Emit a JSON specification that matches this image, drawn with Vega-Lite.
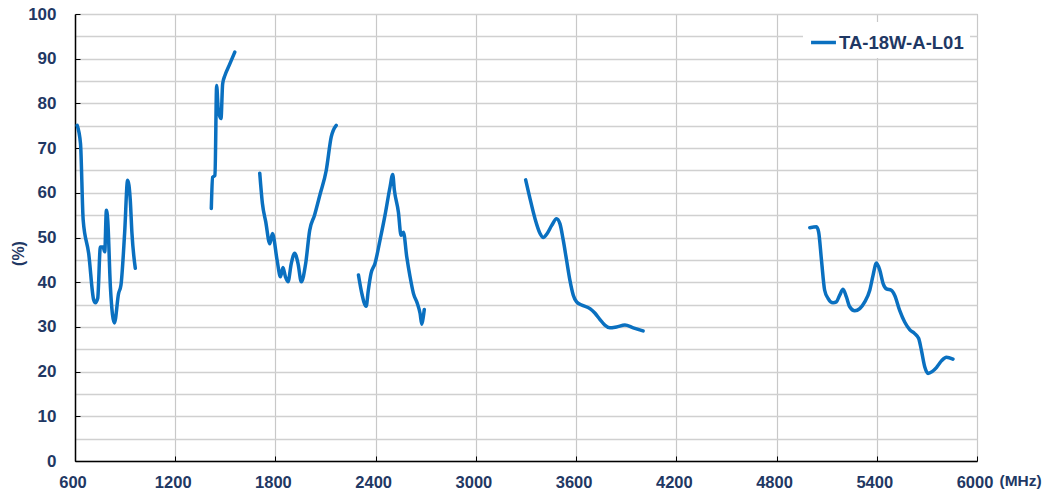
{
  "$schema": "https://vega.github.io/schema/vega-lite/v6.json",
  "autosize": "none",
  "padding": {"left": 75, "top": 14, "right": 74, "bottom": 35},
  "width": 902,
  "height": 447,
  "background": "white",
  "config": {
    "view": {"stroke": "#a6a6a6", "strokeWidth": 1},
    "font": "Liberation Sans"
  },
  "data": {
    "values": [
      {"b": 1, "f": 613, "v": 75.1}, {"b": 1, "f": 633, "v": 71}, {"b": 1, "f": 649, "v": 53.9}, {"b": 1, "f": 682, "v": 46.4},
      {"b": 1, "f": 712, "v": 36}, {"b": 1, "f": 722, "v": 35.4}, {"b": 1, "f": 736, "v": 36.4}, {"b": 1, "f": 752, "v": 47.9},
      {"b": 1, "f": 768, "v": 47.9}, {"b": 1, "f": 778, "v": 46.8}, {"b": 1, "f": 788, "v": 56.1}, {"b": 1, "f": 796, "v": 53.9},
      {"b": 1, "f": 812, "v": 38.9}, {"b": 1, "f": 836, "v": 30.9}, {"b": 1, "f": 861, "v": 37.5}, {"b": 1, "f": 875, "v": 39.3},
      {"b": 1, "f": 897, "v": 50.9}, {"b": 1, "f": 915, "v": 62.8}, {"b": 1, "f": 931, "v": 58.3}, {"b": 1, "f": 941, "v": 50.9},
      {"b": 1, "f": 961, "v": 43.1},
      {"b": 2, "f": 1416, "v": 56.5}, {"b": 2, "f": 1424, "v": 63.5}, {"b": 2, "f": 1438, "v": 63.9}, {"b": 2, "f": 1448, "v": 84},
      {"b": 2, "f": 1458, "v": 78.4}, {"b": 2, "f": 1474, "v": 76.6}, {"b": 2, "f": 1484, "v": 84.4}, {"b": 2, "f": 1498, "v": 86.3},
      {"b": 2, "f": 1523, "v": 88.5}, {"b": 2, "f": 1557, "v": 91.5},
      {"b": 3, "f": 1706, "v": 64.4}, {"b": 3, "f": 1722, "v": 57.6}, {"b": 3, "f": 1742, "v": 53.5}, {"b": 3, "f": 1766, "v": 48.6},
      {"b": 3, "f": 1782, "v": 50.9}, {"b": 3, "f": 1810, "v": 44.9}, {"b": 3, "f": 1830, "v": 41.2}, {"b": 3, "f": 1845, "v": 43.3},
      {"b": 3, "f": 1860, "v": 41.2}, {"b": 3, "f": 1875, "v": 40.1}, {"b": 3, "f": 1895, "v": 44.2}, {"b": 3, "f": 1915, "v": 46.5},
      {"b": 3, "f": 1935, "v": 44.2}, {"b": 3, "f": 1955, "v": 40.1}, {"b": 3, "f": 1981, "v": 44.2}, {"b": 3, "f": 2005, "v": 51.6},
      {"b": 3, "f": 2034, "v": 55}, {"b": 3, "f": 2068, "v": 59.8}, {"b": 3, "f": 2104, "v": 65}, {"b": 3, "f": 2134, "v": 72.5},
      {"b": 3, "f": 2164, "v": 75.1},
      {"b": 4, "f": 2297, "v": 41.6}, {"b": 4, "f": 2317, "v": 37.5}, {"b": 4, "f": 2343, "v": 34.6}, {"b": 4, "f": 2356, "v": 38.2},
      {"b": 4, "f": 2372, "v": 41.9}, {"b": 4, "f": 2396, "v": 44.2}, {"b": 4, "f": 2426, "v": 49.4}, {"b": 4, "f": 2456, "v": 55},
      {"b": 4, "f": 2486, "v": 61.3}, {"b": 4, "f": 2502, "v": 64.1}, {"b": 4, "f": 2512, "v": 60.6}, {"b": 4, "f": 2536, "v": 55.7},
      {"b": 4, "f": 2552, "v": 50.5}, {"b": 4, "f": 2566, "v": 51.2}, {"b": 4, "f": 2586, "v": 45.7}, {"b": 4, "f": 2606, "v": 41.2},
      {"b": 4, "f": 2626, "v": 37.5}, {"b": 4, "f": 2650, "v": 35.2}, {"b": 4, "f": 2666, "v": 33}, {"b": 4, "f": 2676, "v": 30.6},
      {"b": 4, "f": 2685, "v": 32.2}, {"b": 4, "f": 2691, "v": 33.9},
      {"b": 5, "f": 3298, "v": 62.9}, {"b": 5, "f": 3324, "v": 58.7}, {"b": 5, "f": 3354, "v": 54.2}, {"b": 5, "f": 3384, "v": 50.9},
      {"b": 5, "f": 3403, "v": 50}, {"b": 5, "f": 3427, "v": 50.9}, {"b": 5, "f": 3454, "v": 52.7}, {"b": 5, "f": 3483, "v": 54.2},
      {"b": 5, "f": 3503, "v": 53.1}, {"b": 5, "f": 3523, "v": 49.4}, {"b": 5, "f": 3543, "v": 44.9}, {"b": 5, "f": 3563, "v": 40.4},
      {"b": 5, "f": 3583, "v": 37.1}, {"b": 5, "f": 3603, "v": 35.6}, {"b": 5, "f": 3633, "v": 34.9}, {"b": 5, "f": 3683, "v": 34.1},
      {"b": 5, "f": 3712, "v": 33.1}, {"b": 5, "f": 3742, "v": 31.7}, {"b": 5, "f": 3772, "v": 30.4}, {"b": 5, "f": 3802, "v": 29.8},
      {"b": 5, "f": 3842, "v": 30}, {"b": 5, "f": 3892, "v": 30.4}, {"b": 5, "f": 3942, "v": 29.8}, {"b": 5, "f": 4001, "v": 29.1},
      {"b": 6, "f": 4999, "v": 52.2}, {"b": 6, "f": 5039, "v": 52.4}, {"b": 6, "f": 5052, "v": 51.2}, {"b": 6, "f": 5069, "v": 44.9},
      {"b": 6, "f": 5088, "v": 38.2}, {"b": 6, "f": 5108, "v": 36.4}, {"b": 6, "f": 5138, "v": 35.4}, {"b": 6, "f": 5158, "v": 35.6},
      {"b": 6, "f": 5178, "v": 37.1}, {"b": 6, "f": 5198, "v": 38.4}, {"b": 6, "f": 5218, "v": 36.7}, {"b": 6, "f": 5238, "v": 34.5},
      {"b": 6, "f": 5268, "v": 33.6}, {"b": 6, "f": 5298, "v": 34.1}, {"b": 6, "f": 5328, "v": 35.6}, {"b": 6, "f": 5358, "v": 38.2},
      {"b": 6, "f": 5378, "v": 41.6}, {"b": 6, "f": 5398, "v": 44.3}, {"b": 6, "f": 5418, "v": 42.7}, {"b": 6, "f": 5438, "v": 39.7},
      {"b": 6, "f": 5458, "v": 38.5}, {"b": 6, "f": 5487, "v": 38.2}, {"b": 6, "f": 5507, "v": 37.1}, {"b": 6, "f": 5537, "v": 33.7},
      {"b": 6, "f": 5567, "v": 31.1}, {"b": 6, "f": 5597, "v": 29.4}, {"b": 6, "f": 5627, "v": 28.5}, {"b": 6, "f": 5651, "v": 27.4},
      {"b": 6, "f": 5667, "v": 24.8}, {"b": 6, "f": 5687, "v": 21.1}, {"b": 6, "f": 5707, "v": 19.6}, {"b": 6, "f": 5731, "v": 20},
      {"b": 6, "f": 5757, "v": 20.9}, {"b": 6, "f": 5787, "v": 22.4}, {"b": 6, "f": 5817, "v": 23.2}, {"b": 6, "f": 5856, "v": 22.8}
    ]
  },
  "transform": [{"calculate": "'TA-18W-A-L01'", "as": "series"}],
  "mark": {"type": "line", "interpolate": "monotone", "strokeWidth": 3.5, "strokeCap": "round", "strokeJoin": "round"},
  "encoding": {
    "x": {
      "field": "f", "type": "quantitative",
      "scale": {"domain": [600, 6000], "nice": false, "zero": false},
      "axis": {
        "values": [600, 1200, 1800, 2400, 3000, 3600, 4200, 4800, 5400, 6000],
        "format": "d",
        "title": "(MHz)", "titleFont": "Liberation Sans", "titleFontSize": 15.5, "titleFontWeight": "bold",
        "titleColor": "#1f3864", "titleAlign": "left", "titleAnchor": "start", "titleBaseline": "middle",
        "titleX": 924, "titleY": 19,
        "labelFont": "Liberation Sans", "labelFontSize": 16.5, "labelFontWeight": "bold", "labelColor": "#1f3864",
        "labelPadding": 26, "labelBaseline": "middle", "labelFlush": false, "labelOffset": -2.5,
        "domainColor": "#000000", "domainWidth": 1.5,
        "tickSize": -5, "tickColor": "#000000", "tickWidth": 1,
        "grid": true, "gridColor": "#c8c8c8", "gridWidth": 1.2
      }
    },
    "y": {
      "field": "v", "type": "quantitative",
      "scale": {"domain": [0, 100], "nice": false},
      "axis": {
        "values": [0, 5, 10, 15, 20, 25, 30, 35, 40, 45, 50, 55, 60, 65, 70, 75, 80, 85, 90, 95, 100],
        "labelExpr": "datum.value % 10 === 0 ? datum.label : ''",
        "title": "(%)", "titleFont": "Liberation Sans", "titleFontSize": 16, "titleFontWeight": "bold",
        "titleColor": "#1f3864", "titleX": -57, "titleY": 239, "titleAngle": -90, "titleAlign": "center", "titleBaseline": "middle",
        "labelFont": "Liberation Sans", "labelFontSize": 17, "labelFontWeight": "bold", "labelColor": "#1f3864",
        "labelPadding": 24,
        "domainColor": "#000000", "domainWidth": 1.5,
        "tickSize": -5, "tickColor": "#000000",
        "tickOpacity": {"condition": {"test": "datum.value % 10 === 0", "value": 1}, "value": 0},
        "grid": true, "gridColor": "#d0d0d0", "gridWidth": 1.5
      }
    },
    "color": {
      "field": "series", "type": "nominal",
      "scale": {"range": ["#0a70c0"]},
      "legend": {
        "title": null, "orient": "none", "legendX": 728, "legendY": 8,
        "fillColor": "white", "padding": 6,
        "symbolType": "stroke", "symbolSize": 620, "symbolStrokeWidth": 3.5, "symbolStrokeColor": "#0a70c0",
        "labelFont": "Liberation Sans", "labelFontSize": 18.5, "labelFontWeight": "bold", "labelColor": "#1f3864",
        "labelOffset": 1
      }
    },
    "detail": {"field": "b", "type": "nominal"}
  }
}
